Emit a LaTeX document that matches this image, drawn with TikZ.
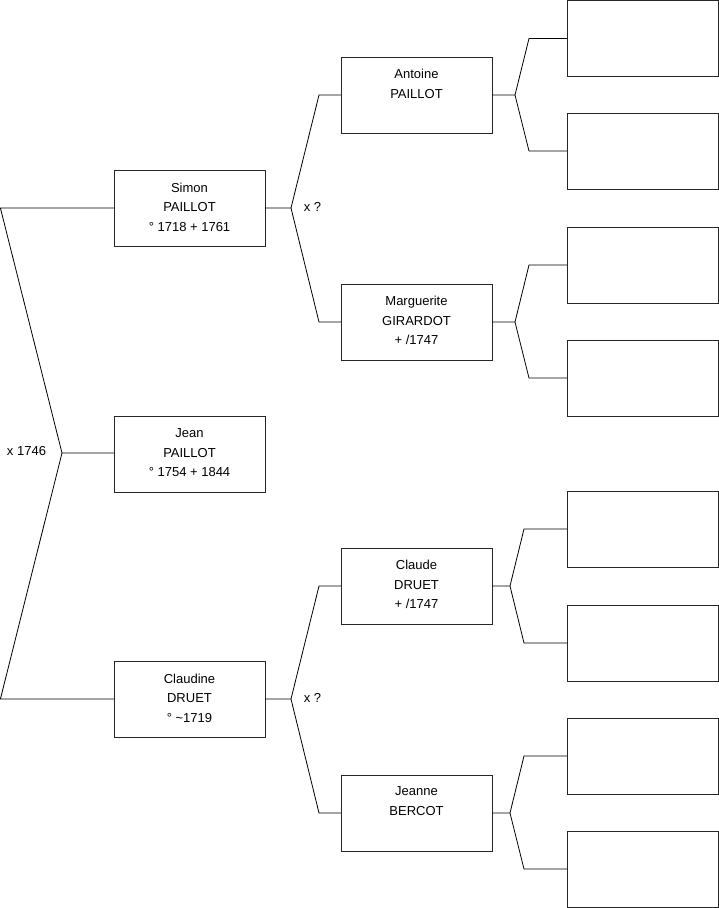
\documentclass[tikz,border=0pt]{standalone}
\usepackage{fontspec}
\setmainfont{Liberation Sans}
\begin{document}
\begin{tikzpicture}[x=1pt,y=-1pt,
  person/.style={draw=black!85, line width=0.8pt, minimum width=151pt, minimum height=76pt, inner sep=0pt, outer sep=0pt},
  ptext/.style={anchor=north, align=center, inner sep=0pt, font=\fontsize{13}{19.6}\selectfont},
  link/.style={draw=black, line width=0.8pt},
  lab/.style={font=\fontsize{13}{15}\selectfont, inner sep=0pt}]
\useasboundingbox (0,0) rectangle (719,908);
% persons
\node[person] (simon) at (189.5,208) {};
\node[person] (jean) at (189.5,454) {};
\node[person] (claudine) at (189.5,699) {};
\node[person] (antoine) at (416.5,95) {};
\node[person] (marguerite) at (416.5,322) {};
\node[person] (claude) at (416.5,586) {};
\node[person] (jeanne) at (416.5,813) {};
\node[person] (r1) at (642.5,38.5) {};
\node[person] (r2) at (642.5,151) {};
\node[person] (r3) at (642.5,265) {};
\node[person] (r4) at (642.5,378) {};
\node[person] (r5) at (642.5,529) {};
\node[person] (r6) at (642.5,643) {};
\node[person] (r7) at (642.5,756) {};
\node[person] (r8) at (642.5,869) {};
% texts
\node[ptext] (simon-t) at ([yshift=-12.6pt]simon.north) {Simon\\PAILLOT\\° 1718 + 1761};
\node[ptext] (jean-t) at ([yshift=-12.6pt]jean.north) {Jean\\PAILLOT\\° 1754 + 1844};
\node[ptext] (claudine-t) at ([yshift=-12.6pt]claudine.north) {Claudine\\DRUET\\° \textasciitilde1719};
\node[ptext] (antoine-t) at ([yshift=-11.8pt]antoine.north) {Antoine\\PAILLOT};
\node[ptext] (marguerite-t) at ([yshift=-11.8pt]marguerite.north) {Marguerite\\GIRARDOT\\+ /1747};
\node[ptext] (claude-t) at ([yshift=-11.8pt]claude.north) {Claude\\DRUET\\+ /1747};
\node[ptext] (jeanne-t) at ([yshift=-11.8pt]jeanne.north) {Jeanne\\BERCOT};
% labels
\node[lab] (m0) at (26.5,451) {x 1746};
\node[lab] (m1) at (312.5,207) {x ?};
\node[lab] (m2) at (312.5,698) {x ?};
% fork coordinates
\coordinate (L1) at (0.4,208);
\coordinate (L0) at (62,453);
\coordinate (L2) at (0.4,699);
\coordinate (S0) at (291,208);
\coordinate (S1) at (319,95);
\coordinate (S2) at (319,322);
\coordinate (C0) at (291,699);
\coordinate (C1) at (319,586);
\coordinate (C2) at (319,813);
\coordinate (A0) at (515,95);
\coordinate (A1) at (529,38.5);
\coordinate (A2) at (529,151);
\coordinate (M0) at (515,322);
\coordinate (M1) at (529,265);
\coordinate (M2) at (529,378);
\coordinate (D0) at (510,586);
\coordinate (D1) at (524,529);
\coordinate (D2) at (524,643);
\coordinate (J0) at (510,813);
\coordinate (J1) at (524,756);
\coordinate (J2) at (524,869);
% connectors
\draw[link] (simon.west) -- (L1) -- (L0) -- (L0 -| jean.west);
\draw[link] (L0) -- (L2) -- (claudine.west);
\draw[link] (simon.east) -- (S0) -- (S1) -- (antoine.west);
\draw[link] (S0) -- (S2) -- (marguerite.west);
\draw[link] (claudine.east) -- (C0) -- (C1) -- (claude.west);
\draw[link] (C0) -- (C2) -- (jeanne.west);
\draw[link] (antoine.east) -- (A0) -- (A1) -- (r1.west |- A1);
\draw[link] (A0) -- (A2) -- (r2.west);
\draw[link] (marguerite.east) -- (M0) -- (M1) -- (r3.west);
\draw[link] (M0) -- (M2) -- (r4.west);
\draw[link] (claude.east) -- (D0) -- (D1) -- (r5.west);
\draw[link] (D0) -- (D2) -- (r6.west);
\draw[link] (jeanne.east) -- (J0) -- (J1) -- (r7.west);
\draw[link] (J0) -- (J2) -- (r8.west);
\end{tikzpicture}
\end{document}
